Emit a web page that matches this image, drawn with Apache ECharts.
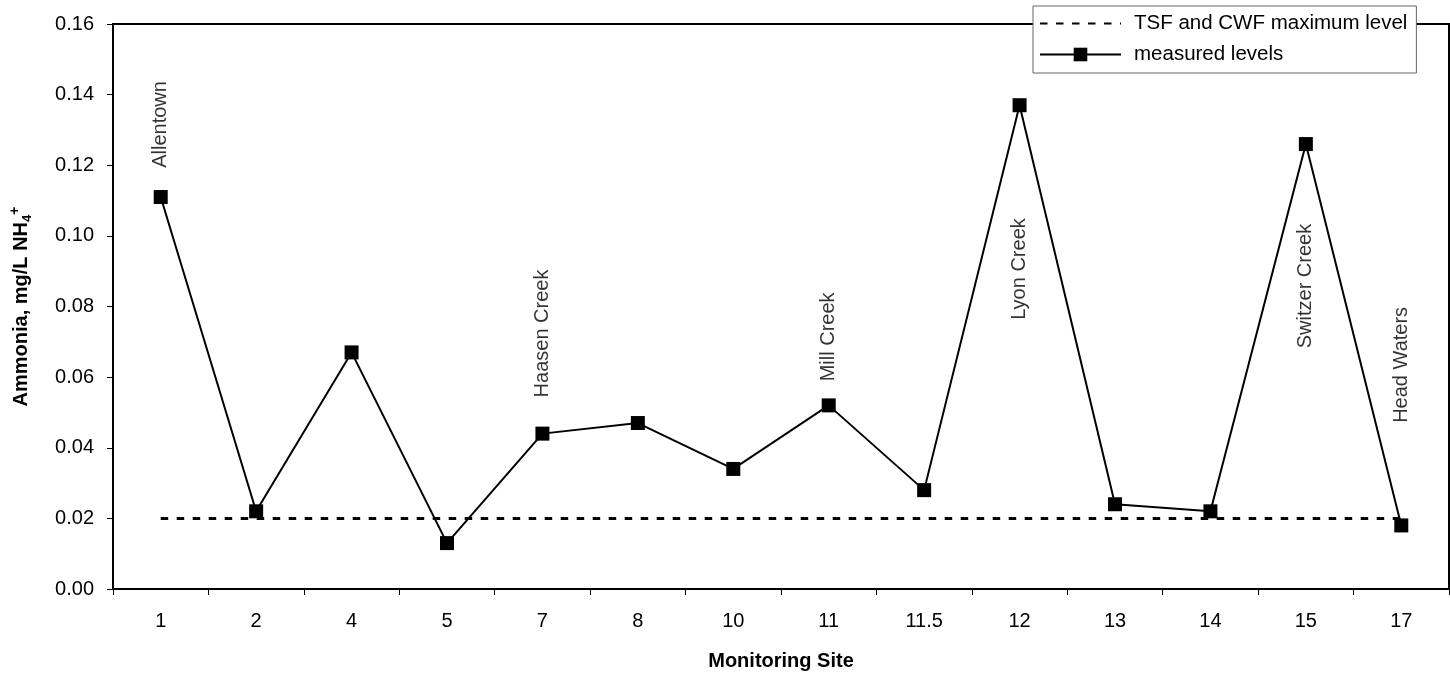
<!DOCTYPE html>
<html>
<head>
<meta charset="utf-8">
<script src="https://cdn.jsdelivr.net/npm/echarts@6/dist/echarts.min.js"></script>
<style>
  html, body { margin: 0; padding: 0; background: #fff; }
  #chart { width: 1450px; height: 682px; }
</style>
</head>
<body>
<div id="chart"></div>
<script>
// ---- data ----
const categories = ['1', '2', '4', '5', '7', '8', '10', '11', '11.5', '12', '13', '14', '15', '17'];
const measuredLevels = [0.111, 0.022, 0.067, 0.013, 0.044, 0.047, 0.034, 0.052, 0.028, 0.137, 0.024, 0.022, 0.126, 0.018];
const maxLevel = [0.02, 0.02, 0.02, 0.02, 0.02, 0.02, 0.02, 0.02, 0.02, 0.02, 0.02, 0.02, 0.02, 0.02];
const siteNames = ['Allentown', 'Haasen Creek', 'Mill Creek', 'Lyon Creek', 'Switzer Creek', 'Head Waters'];
const siteCats = ['1', '7', '11', '12', '15', '17'];
const siteLabelY = [0.1324, 0.0732, 0.0714, 0.0909, 0.0875, 0.0663];
const yTicks = { min: 0, max: 0.16, interval: 0.02 };

// ---- chart ----
const FONT = "'Liberation Sans', Arial, sans-serif";
const labelShiftX = [-3, -3, 0, -1, -6, -10];
const chart = echarts.init(document.getElementById('chart'), null, { renderer: 'canvas' });

const siteData = siteNames.map((n, i) => ({
  value: [siteCats[i], siteLabelY[i]],
  name: n,
  label: { offset: [labelShiftX[i], 0] }
}));

chart.setOption({
  animation: false,
  backgroundColor: '#fff',
  textStyle: { fontFamily: FONT, color: '#000' },
  grid: {
    left: 112, right: 1, top: 24, bottom: 93,
    show: true, borderColor: '#000', borderWidth: 2, backgroundColor: 'transparent'
  },
  legend: {
    data: [
      { name: 'TSF and CWF maximum level', itemStyle: { color: 'rgba(0,0,0,0)', borderWidth: 0, opacity: 0 } },
      { name: 'measured levels' }
    ],
    orient: 'vertical',
    left: 1033, top: 6,
    padding: [7, 9, 8, 6],
    itemGap: 10,
    itemWidth: 81, itemHeight: 17,
    backgroundColor: '#fff',
    borderColor: '#666', borderWidth: 1,
    textStyle: { fontFamily: FONT, fontSize: 20.5, color: '#000', padding: [0, 0, 0, 8] },
    z: 10
  },
  xAxis: {
    type: 'category',
    data: categories,
    boundaryGap: true,
    name: 'Monitoring Site',
    nameLocation: 'middle',
    nameGap: 62,
    nameTextStyle: { fontFamily: FONT, fontSize: 20, fontWeight: 'bold', color: '#000' },
    axisLine: { lineStyle: { color: '#000', width: 2 } },
    axisTick: { show: true, length: 6, alignWithLabel: false, interval: 0, lineStyle: { color: '#000', width: 1 } },
    axisLabel: { interval: 0, margin: 22, fontFamily: FONT, fontSize: 20, color: '#000' },
    splitLine: { show: false }
  },
  yAxis: {
    type: 'value',
    min: yTicks.min, max: yTicks.max, interval: yTicks.interval,
    name: '{a|Ammonia, mg/L NH}{b|4}{c|+}',
    nameLocation: 'middle',
    nameGap: 79,
    nameTextStyle: {
      fontFamily: FONT, fontSize: 20, fontWeight: 'bold', color: '#000',
      rich: {
        a: { fontFamily: FONT, fontSize: 20, fontWeight: 'bold', color: '#000', lineHeight: 26 },
        b: { fontFamily: FONT, fontSize: 13, fontWeight: 'bold', color: '#000', lineHeight: 13, verticalAlign: 'bottom' },
        c: { fontFamily: FONT, fontSize: 14, fontWeight: 'bold', color: '#000', lineHeight: 14, verticalAlign: 'top' }
      }
    },
    axisLine: { show: true, lineStyle: { color: '#000', width: 2 } },
    axisTick: { show: true, length: 6, lineStyle: { color: '#000', width: 1 } },
    axisLabel: {
      margin: 19, fontFamily: FONT, fontSize: 20, color: '#000',
      formatter: v => v.toFixed(2)
    },
    splitLine: { show: false }
  },
  series: [
    {
      name: 'TSF and CWF maximum level',
      type: 'line',
      data: maxLevel,
      symbol: 'none',
      lineStyle: { color: '#000', width: 3, type: [7.5, 8.5] },
      itemStyle: { color: '#000' },
      z: 2,
      silent: true
    },
    {
      name: 'measured levels',
      type: 'line',
      data: measuredLevels,
      symbol: 'rect',
      symbolSize: 14,
      showAllSymbol: true,
      lineStyle: { color: '#000', width: 2 },
      itemStyle: { color: '#000' },
      z: 3,
      silent: true
    },
    {
      name: 'site labels',
      type: 'scatter',
      data: siteData,
      symbol: 'circle',
      symbolSize: 1,
      itemStyle: { color: 'rgba(0,0,0,0)' },
      label: {
        show: true,
        position: 'inside',
        rotate: 90,
        formatter: p => p.name,
        fontFamily: FONT,
        fontSize: 20,
        color: '#000',
        textBorderWidth: 0
      },
      z: 4,
      silent: true
    }
  ]
});
</script>
</body>
</html>
